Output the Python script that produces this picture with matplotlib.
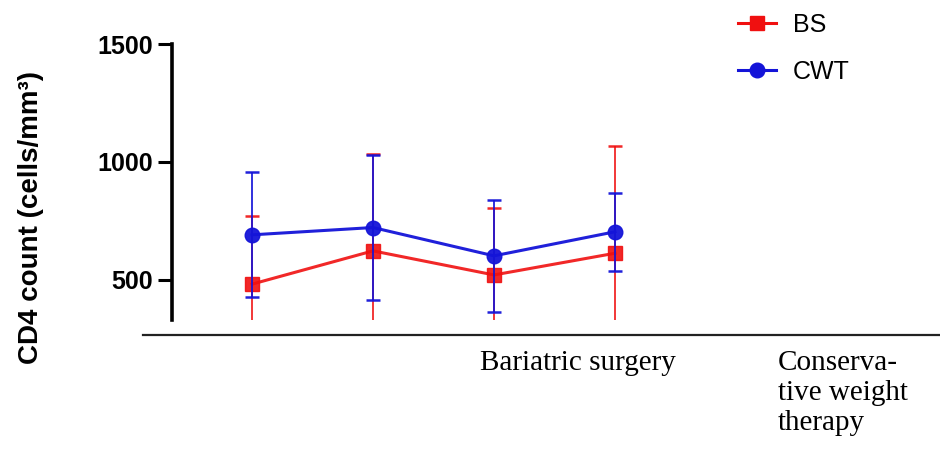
import matplotlib
matplotlib.use("Agg")
import matplotlib.pyplot as plt
from matplotlib.lines import Line2D

# time points (no x labels shown)
xs = [0, 1, 2, 3]

bs_mean = [482, 623, 521, 613]
bs_sd = [290, 409, 282, 454]

cwt_mean = [691, 722, 602, 704]
cwt_sd = [265, 307, 238, 166]

red = "#f01010"
blue = "#1414d8"

plt.rcParams["font.family"] = ["Liberation Sans", "DejaVu Sans"]

fig = plt.figure(figsize=(9.4, 4.51), dpi=100)
ax = fig.add_axes([172 / 940, 1 - 320 / 451, (736 - 172) / 940, (320 - 44) / 451])

ax.errorbar(xs, cwt_mean, yerr=cwt_sd, color=blue, ecolor=blue, elinewidth=1.3,
            capsize=5, capthick=1.8, lw=2.2, marker="o", ms=10.5, zorder=3, alpha=0.95)
ax.errorbar(xs, bs_mean, yerr=bs_sd, color=red, ecolor=red, elinewidth=1.3,
            capsize=5, capthick=1.8, lw=2.2, marker="s", ms=10.5, zorder=2, alpha=0.9)

ax.set_xlim(-0.661, 4.0)
ax.set_ylim(330, 1500)
ax.set_yticks([500, 1000, 1500])
ax.tick_params(axis="y", length=10, width=2.2, labelsize=18, pad=4)
for lab in ax.get_yticklabels():
    lab.set_fontweight("bold")
ax.set_xticks([])
for s in ["top", "right", "bottom"]:
    ax.spines[s].set_visible(False)
ax.spines["left"].set_linewidth(2.6)

fig.text(31 / 940, 1 - 217 / 451, "CD4 count (cells/mm\u00b3)", rotation=90,
         fontsize=20, fontweight="bold", ha="center", va="center")

# legend
handles = [Line2D([], [], color=red, marker="s", ms=10.5, lw=2.2),
           Line2D([], [], color=blue, marker="o", ms=10.5, lw=2.2)]
fig.legend(handles, ["BS", "CWT"], loc="upper left", bbox_to_anchor=(0.764, 1.015),
           frameon=False, fontsize=18, handlelength=1.5, handletextpad=0.7,
           labelspacing=0.9, borderpad=0.3)

# table-like line and labels below
fig.add_artist(Line2D([143 / 940, 1.0], [1 - 335 / 451, 1 - 335 / 451],
                      color="#222222", lw=1.6))
fig.text(480 / 940, 1 - 350 / 451, "Bariatric surgery", family="Liberation Serif",
         fontsize=21, ha="left", va="top")
fig.text(778 / 940, 1 - 350 / 451, "Conserva-\ntive weight\ntherapy", family="Liberation Serif",
         fontsize=21, ha="left", va="top", linespacing=1.2)

fig.savefig("out.png", dpi=100)
